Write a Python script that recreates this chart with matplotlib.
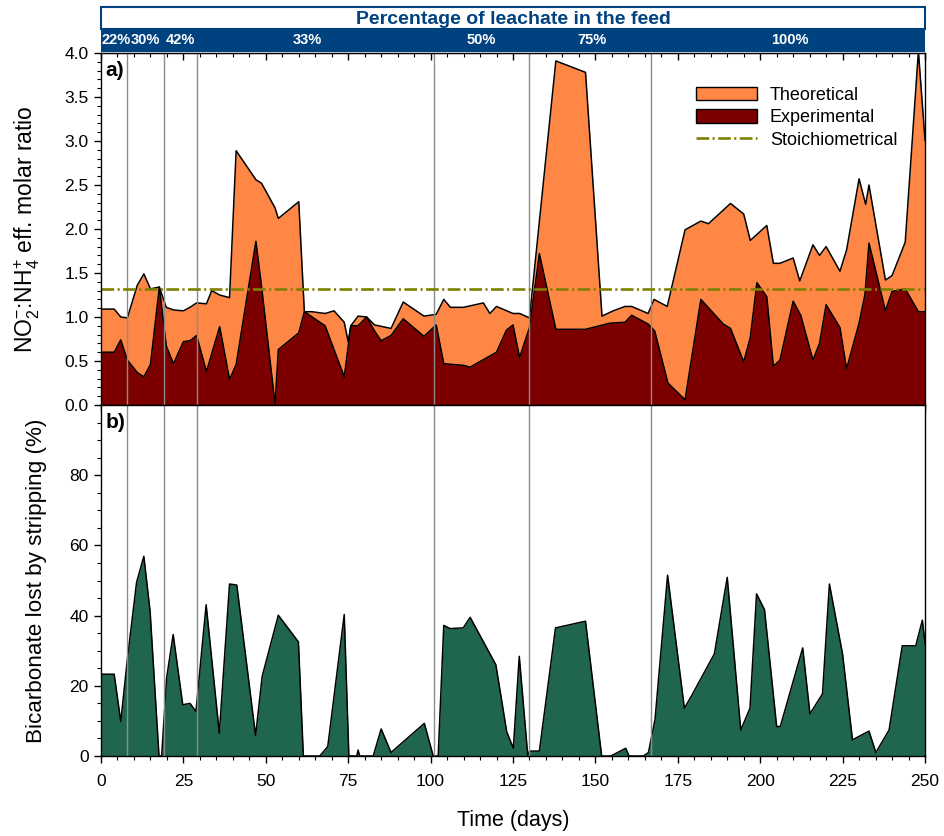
import numpy as np
import matplotlib
matplotlib.use('Agg')
import matplotlib.pyplot as plt
from matplotlib.patches import Rectangle, Patch
from matplotlib.lines import Line2D
from matplotlib.ticker import MultipleLocator, FormatStrFormatter

plt.rcParams['font.family'] = ['Liberation Sans', 'DejaVu Sans']
plt.rcParams['mathtext.fontset'] = 'custom'
plt.rcParams['mathtext.rm'] = 'Liberation Sans'
plt.rcParams['mathtext.it'] = 'Liberation Sans:italic'

# panel a: NO2-:NH4+ molar ratio
day_theo = [0, 4, 6, 8, 11, 13, 15, 17.7, 19.8, 22, 25, 27, 29, 32, 33.6, 36, 39, 41, 47, 48.7,
            52.8, 53.8, 60, 61.7, 64, 68, 70.7, 73.8, 75, 75.8, 78, 80.6, 83, 88, 91.7, 98, 101.7,
            104, 106, 110, 116, 118, 120, 125, 127, 130, 138, 147, 152, 155.4, 159, 161, 166,
            167.8, 171.8, 177.2, 182, 184.3, 191, 195, 197, 202, 204, 206, 210, 212, 216, 218,
            220, 224.2, 226.2, 230, 232, 233, 238, 240, 244, 248, 250]
theoretical = [1.09, 1.09, 1.00, 0.99, 1.36, 1.49, 1.32, 1.34, 1.11, 1.08, 1.07, 1.11, 1.16, 1.15,
               1.30, 1.25, 1.22, 2.89, 2.56, 2.52, 2.24, 2.12, 2.31, 1.06, 1.06, 1.04, 1.07, 0.94,
               0.72, 0.90, 1.01, 1.00, 0.91, 0.87, 1.17, 1.01, 1.03, 1.20, 1.11, 1.11, 1.16, 1.04,
               1.12, 1.04, 1.04, 0.99, 3.91, 3.78, 1.01, 1.07, 1.12, 1.12, 1.04, 1.20, 1.12, 1.99,
               2.09, 2.06, 2.29, 2.17, 1.87, 2.04, 1.61, 1.61, 1.67, 1.41, 1.82, 1.70, 1.80, 1.52,
               1.76, 2.57, 2.28, 2.50, 1.42, 1.47, 1.85, 4.02, 3.01]

day_exp = [0, 4, 6, 8, 11, 13, 15, 17.7, 19.8, 22, 25, 27, 29, 32, 36, 39, 41, 47, 48.7, 52.8,
           53.8, 60, 61.7, 68, 70.7, 73.8, 75.8, 78, 80.6, 83, 85, 88, 91.7, 98, 101.7, 104, 110,
           112, 120, 123, 125, 127, 130, 133, 138, 147, 154.4, 159, 161, 166, 168, 172, 177.2,
           182, 188.8, 191, 195, 197, 199, 202, 204, 206, 210, 212.3, 216, 218, 220, 224.2, 226.2,
           230, 231.8, 233, 238, 240, 244, 248, 250]
experimental = [0.60, 0.60, 0.74, 0.51, 0.37, 0.32, 0.46, 1.34, 0.67, 0.47, 0.72, 0.73, 0.79, 0.38,
                0.89, 0.29, 0.46, 1.86, 1.35, 0.01, 0.63, 0.82, 1.06, 0.90, 0.63, 0.32, 0.90, 0.90,
                1.00, 0.84, 0.73, 0.79, 0.98, 0.78, 0.91, 0.47, 0.45, 0.43, 0.60, 0.85, 0.91, 0.54,
                0.88, 1.72, 0.86, 0.86, 0.93, 0.94, 1.02, 0.92, 0.84, 0.25, 0.06, 1.20, 0.92, 0.87,
                0.49, 0.77, 1.39, 1.23, 0.44, 0.51, 1.18, 1.02, 0.51, 0.70, 1.14, 0.88, 0.41, 0.93,
                1.26, 1.84, 1.07, 1.29, 1.32, 1.06, 1.06]

stoich_ratio = 1.32

# panel b: bicarbonate lost by stripping (%)
day_bic = [0, 4, 6, 8, 10.8, 13, 14.9, 17.6, 18.4, 19.9, 21.9, 24.8, 27, 28.8, 31.9, 35.9, 39,
           41.2, 46.9, 48.9, 53.8, 59.9, 61.4, 66.4, 68.8, 73.8, 75.2, 77.6, 78, 78.5, 82.6, 85,
           88, 98.1, 100.8, 102.3, 104, 105.9, 109.9, 112, 119.8, 123.1, 125.1, 126.9, 129.5,
           130, 133, 137.9, 147, 151.9, 154.7, 159.2, 160.2, 164.6, 166.1, 168.1, 171.9, 177,
           179.2, 186.1, 190, 194.1, 196.9, 198.9, 201.3, 205, 206.1, 212.9, 215.1, 218.9, 221,
           225, 228, 233, 235.1, 239.1, 243.1, 247.2, 249.2, 250]
bicarbonate = [23.3, 23.3, 9.8, 27.6, 49.5, 56.9, 41.2, 0, 0, 22.2, 34.6, 14.6, 15.0, 12.7, 43.1,
               6.5, 49.0, 48.7, 5.8, 22.7, 40.1, 32.5, 0, 0, 2.7, 40.3, 0, 0, 1.7, 0, 0, 7.7, 1.0,
               9.3, 0, 0, 37.2, 36.3, 36.5, 39.5, 26.0, 6.9, 2.2, 28.4, 0, 1.4, 1.4, 36.5, 38.4, 0,
               0, 2.2, 0, 0, 1.0, 10.5, 51.5, 13.6, 17.2, 29.1, 50.9, 7.4, 13.6, 46.2, 41.7, 8.4,
               8.4, 30.8, 12.0, 17.7, 49.0, 29.0, 4.6, 7.1, 1.0, 7.4, 31.4, 31.4, 38.7, 32.2]

# leachate feed periods
period_edges = [0, 8, 19, 29, 101, 130, 167, 250]
period_labels = ['22%', '30%', '42%', '33%', '50%', '75%', '100%']
label_days = [4.5, 13.5, 24, 62.5, 115.5, 149, 209]

c_theo = '#FF8745'
c_exp = '#7D0000'
c_bic = '#206550'
c_stoich = '#808000'
c_blue = '#004280'
c_vline = '#8C8C8C'

tick_fs = 12.5
label_fs = 15.5

fig = plt.figure(figsize=(9.44, 8.36), dpi=100)
left, width = 101 / 944, 824 / 944
ax1 = fig.add_axes([left, 1 - 405 / 836, width, 352 / 836])
ax2 = fig.add_axes([left, 1 - 756 / 836, width, 351 / 836])
axb = fig.add_axes([left, 1 - 52 / 836, width, 45 / 836])

# --- panel a
ax1.fill_between(day_theo, 0, theoretical, color=c_theo, lw=0, zorder=1)
ax1.plot(day_theo, theoretical, color='black', lw=1.1, zorder=2)
ax1.fill_between(day_exp, 0, experimental, color=c_exp, lw=0, zorder=3)
ax1.plot(day_exp, experimental, color='black', lw=1.1, zorder=4)
for d in period_edges[1:-1]:
    ax1.axvline(d, color=c_vline, lw=1.0, zorder=5)
stoich_ls = (0, (4.8, 1.3, 0.8, 1.3))
ax1.axhline(stoich_ratio, color=c_stoich, lw=1.9, ls=stoich_ls, zorder=6)

ax1.set_xlim(0, 250)
ax1.set_ylim(0, 4.0)
ax1.yaxis.set_major_locator(MultipleLocator(0.5))
ax1.yaxis.set_minor_locator(MultipleLocator(0.1))
ax1.xaxis.set_major_locator(MultipleLocator(25))
ax1.xaxis.set_minor_locator(MultipleLocator(5))
ax1.yaxis.set_major_formatter(FormatStrFormatter('%.1f'))
ax1.tick_params(axis='both', which='major', direction='out', length=5, width=1,
                labelsize=tick_fs, pad=4)
ax1.tick_params(axis='both', which='minor', direction='out', length=3, width=0.8)
ax1.tick_params(axis='x', labelbottom=False)
top = ax1.secondary_xaxis('top')
top.xaxis.set_major_locator(MultipleLocator(25))
top.xaxis.set_minor_locator(MultipleLocator(5))
top.tick_params(which='major', direction='in', length=5, width=1, labeltop=False)
top.tick_params(which='minor', direction='in', length=3, width=0.8)
ax1.set_ylabel('NO$_2^{-}$:NH$_4^{+}$ eff. molar ratio', fontsize=16.5)
ax1.yaxis.set_label_coords(-0.071, 0.5)
ax1.text(0.005, 0.978, 'a)', transform=ax1.transAxes, fontsize=15, fontweight='bold',
         va='top', ha='left', zorder=7)

handles = [Patch(facecolor=c_theo, edgecolor='black', lw=1),
           Patch(facecolor=c_exp, edgecolor='black', lw=1),
           Line2D([], [], color=c_stoich, lw=1.9, ls=stoich_ls)]
ax1.legend(handles, ['Theoretical', 'Experimental', 'Stoichiometrical'], loc='upper left',
           bbox_to_anchor=(0.713, 0.925), frameon=False, fontsize=13, handlelength=3.4,
           handleheight=0.8, labelspacing=0.3, handletextpad=0.7, borderaxespad=0)

# --- panel b
ax2.fill_between(day_bic, 0, bicarbonate, color=c_bic, lw=0, zorder=1)
ax2.plot(day_bic, bicarbonate, color='black', lw=1.1, zorder=2)
for d in period_edges[1:-1]:
    ax2.axvline(d, color=c_vline, lw=1.0, zorder=3)
ax2.set_xlim(0, 250)
ax2.set_ylim(0, 100)
ax2.set_yticks([0, 20, 40, 60, 80])
ax2.yaxis.set_minor_locator(MultipleLocator(5))
ax2.xaxis.set_major_locator(MultipleLocator(25))
ax2.xaxis.set_minor_locator(MultipleLocator(5))
ax2.tick_params(axis='both', which='major', direction='out', length=5, width=1,
                labelsize=tick_fs, pad=4)
ax2.tick_params(axis='x', which='major', pad=8)
ax2.tick_params(axis='both', which='minor', direction='out', length=3, width=0.8)
ax2.set_ylabel('Bicarbonate lost by stripping (%)', fontsize=16.2)
ax2.yaxis.set_label_coords(-0.066, 0.5)
ax2.set_xlabel('Time (days)', fontsize=label_fs, labelpad=15)
ax2.text(0.005, 0.978, 'b)', transform=ax2.transAxes, fontsize=15, fontweight='bold',
         va='top', ha='left', zorder=7)

for a in (ax1, ax2):
    for s in a.spines.values():
        s.set_linewidth(1.0)
        s.set_zorder(10)

# --- banner with feed percentages
axb.set_xlim(0, 250)
axb.set_ylim(0, 1)
axb.axis('off')
band_h = 23 / 45
axb.add_patch(Rectangle((0, band_h), 250, 1 - band_h, facecolor='white', edgecolor=c_blue,
                        lw=1.5, clip_on=False))
axb.add_patch(Rectangle((0, 0), 250, band_h, facecolor=c_blue, edgecolor=c_blue, lw=0,
                        clip_on=False))
axb.text(125, (1 + band_h) / 2 - 0.03, 'Percentage of leachate in the feed', color=c_blue,
         fontsize=14, fontweight='bold', ha='center', va='center')
for x, lab in zip(label_days, period_labels):
    axb.text(x, band_h * 0.5, lab, color='white', fontsize=10.5, fontweight='bold',
             ha='center', va='center')

fig.savefig('out.png', dpi=100)
